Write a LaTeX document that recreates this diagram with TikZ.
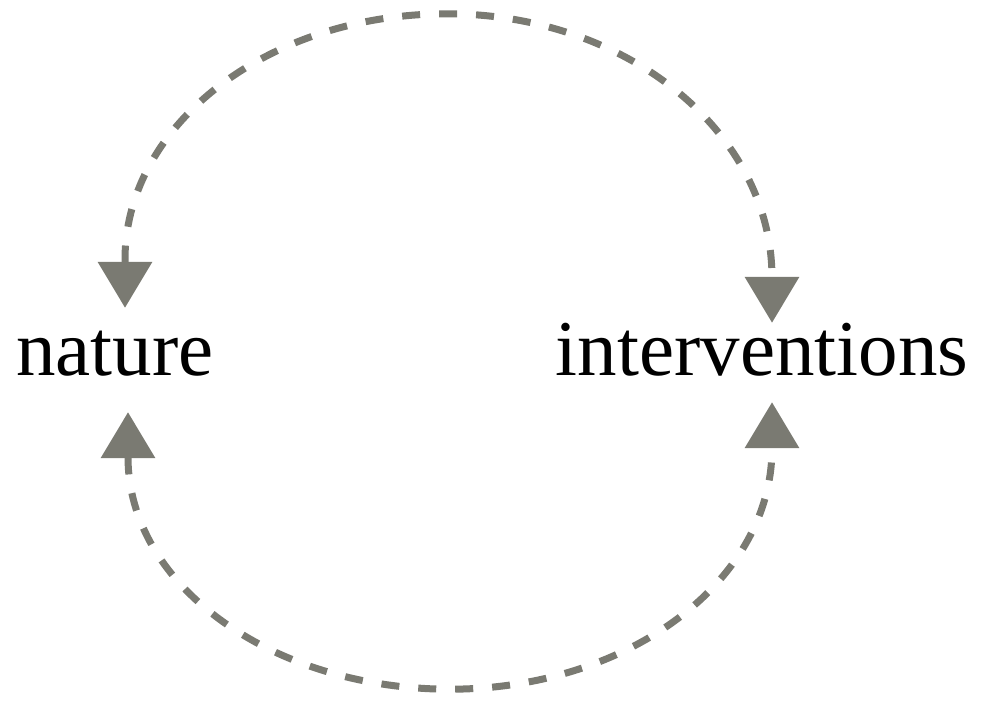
\documentclass[tikz,border=0pt]{standalone}
\usepackage{fontspec}
\setmainfont{Liberation Serif}
\usetikzlibrary{arrows.meta}
\definecolor{ciclogris}{RGB}{122,122,114}

\begin{document}
\begin{tikzpicture}[x=1pt,y=1pt,
  palabra/.style={inner sep=0pt,anchor=base,font=\fontsize{79}{90}\selectfont},
  ciclo/.style={ciclogris,line width=7pt,dash pattern=on 18pt off 19pt,
    {Triangle[length=46pt,width=53pt]}-{Triangle[length=46pt,width=53pt]}}]
\useasboundingbox (0,0) rectangle (985,705);

% Palabras
\node[palabra,text height=67pt,text depth=37pt] (nature) at (115,330) {nature};
\node[palabra,text height=52pt,text depth=27pt] (interventions) at (762,330) {interventions};

% Arco superior
\draw[ciclo] ([xshift=10pt]nature.north) -- ++(0,48)
  arc[start angle=180,end angle=90,x radius=322,y radius=246]
  arc[start angle=90,end angle=0,x radius=325,y radius=264]
  -- ([xshift=10pt]interventions.north);

% Arco inferior
\draw[ciclo] ([xshift=13pt]nature.south) -- ++(0,-45)
  arc[start angle=180,end angle=270,x radius=322,y radius=232]
  arc[start angle=270,end angle=360,x radius=322,y radius=241]
  -- ([xshift=10pt]interventions.south);

\end{tikzpicture}
\end{document}
